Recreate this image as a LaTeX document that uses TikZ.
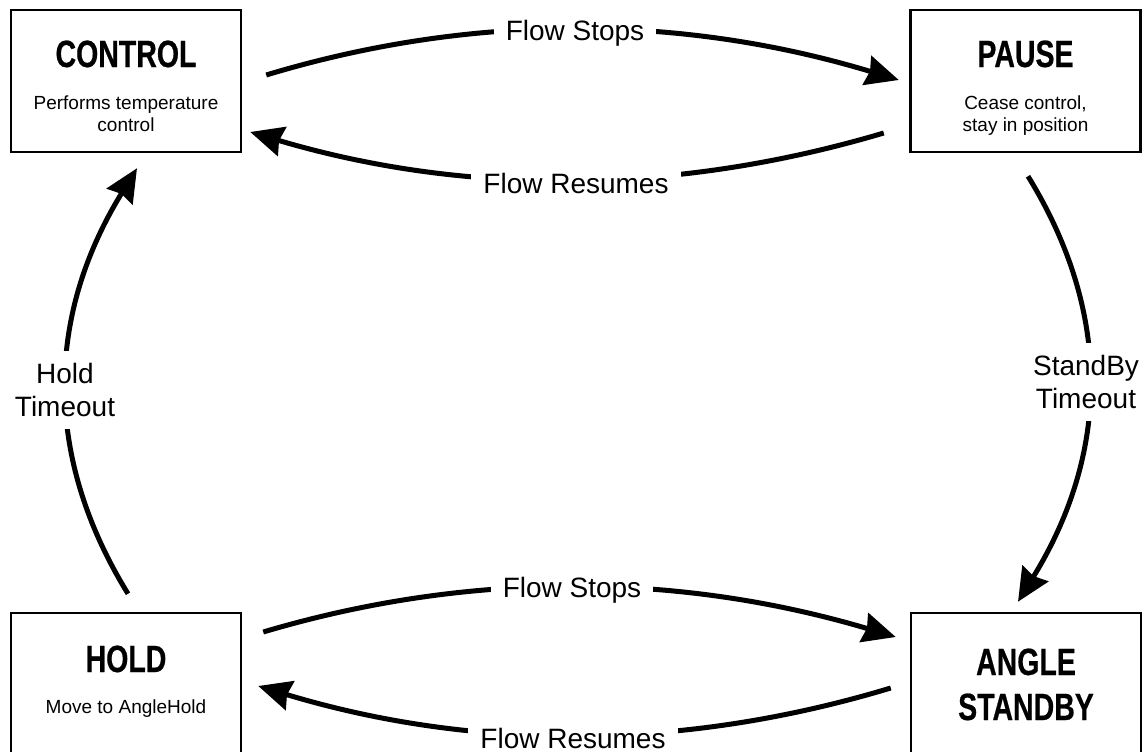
\documentclass[tikz,border=0pt]{standalone}
\usepackage{fontspec}
\setmainfont{Liberation Sans}
\newfontfamily\ttlfont[FakeStretch=0.75,FakeBold=0.5]{Liberation Sans}
\usetikzlibrary{arrows.meta}
\begin{document}
\begin{tikzpicture}[x=1pt,y=-1pt,
  box/.style={draw=black, line width=2.5pt, minimum width=230pt, minimum height=142pt, inner sep=0pt},
  tallbox/.style={box, minimum height=152pt},
  ttl/.style={font=\ttlfont\bfseries\fontsize{38}{45}\selectfont, anchor=base, inner sep=0pt},
  sub/.style={font=\fontsize{19}{21}\selectfont, anchor=base, inner sep=0pt},
  lbl/.style={font=\fontsize{28}{33}\selectfont, fill=white, inner xsep=12pt, inner ysep=5pt, align=center},
  arc/.style={line width=5pt, -{Stealth[length=33pt,width=30pt,inset=3pt]}}]
\useasboundingbox (0,0) rectangle (1143,752);
% state boxes
\node[box] (control) at (126,81) {};
\node[box] (pause) at (1025.5,81) {};
\node[tallbox] (hold) at (126,689) {};
\node[tallbox] (angle) at (1026,689) {};
% texts in boxes
\node[ttl] (controlT) at (126,67) {CONTROL};
\node[sub] (controlS1) at (126,110) {Performs temperature};
\node[sub] (controlS2) at (126,131) {control};
\node[ttl] (pauseT) at (1025.5,67) {PAUSE};
\node[sub] (pauseS1) at (1025.5,110) {Cease control,};
\node[sub] (pauseS2) at (1025.5,131) {stay in position};
\node[ttl] (holdT) at (126,672) {HOLD};
\node[sub] (holdS) at (126,713) {Move to AngleHold};
\node[ttl] (angleT1) at (1026,675) {ANGLE};
\node[ttl] (angleT2) at (1026,720) {STANDBY};
% connectors
\draw[arc] ([shift={(24,-6)}]control.east) .. controls +(212,-64) and +(-212,-64) .. ([shift={(-10.5,-1)}]pause.west);
\draw[arc] ([shift={(-25.5,52)}]pause.west) .. controls +(-212,63) and +(212,63) .. ([shift={(8,51)}]control.east);
\draw[arc] ([shift={(21,-57)}]hold.east) .. controls +(212,-63) and +(-212,-63) .. ([shift={(-14,-52)}]angle.west);
\draw[arc] ([shift={(-19,-1)}]angle.west) .. controls +(-212,64) and +(212,64) .. ([shift={(16,-3)}]hold.east);
\draw[arc] ([shift={(2,-18)}]hold.north) .. controls +(-88,-143) and +(-88,143) .. ([shift={(11,15)}]control.south);
\draw[arc] ([shift={(2.5,23)}]pause.south) .. controls +(88,143) and +(88,-143) .. ([shift={(-8,-10)}]angle.north);
% connector labels
\node[lbl, anchor=base] (fs1) at (575,41) {Flow Stops};
\node[lbl, anchor=base] (fr1) at (576,193) {Flow Resumes};
\node[lbl, anchor=base] (fs2) at (572,597) {Flow Stops};
\node[lbl, anchor=base] (fr2) at (573,748) {Flow Resumes};
\node[lbl, inner ysep=12pt] (ht) at (65,390) {Hold\\Timeout};
\node[lbl, inner ysep=12pt] (st) at (1086,382) {StandBy\\Timeout};
\end{tikzpicture}
\end{document}
